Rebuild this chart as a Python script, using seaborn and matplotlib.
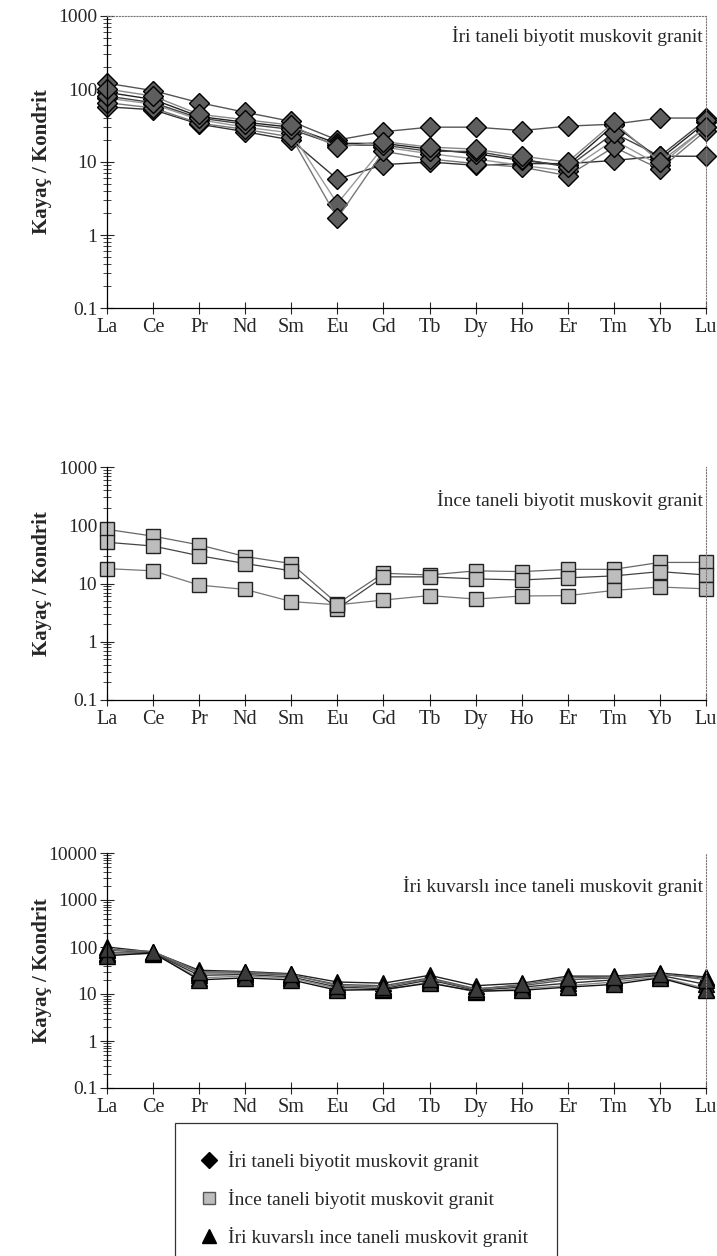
import numpy as np
import pandas as pd
import matplotlib
matplotlib.use("Agg")
import matplotlib.pyplot as plt
import seaborn as sns
from matplotlib.ticker import LogLocator, FixedLocator, FixedFormatter, NullFormatter
from matplotlib.lines import Line2D

# ---------------- data ----------------
elements = ["La", "Ce", "Pr", "Nd", "Sm", "Eu", "Gd", "Tb", "Dy", "Ho", "Er", "Tm", "Yb", "Lu"]

# Panel 1: İri taneli biyotit muskovit granit
iri_1 = [120, 95, 65, 48, 36, 20, 26, 30, 30, 27, 31, 33, 40, 40]
iri_2 = [57, 52, 33, 26, 20, 5.8, 9.2, 10, 9, 9.5, 9.5, 10.5, 12, 12]
iri_3 = [75, 62, 38, 30, 25, 2.7, 16, 13, 11, 9, 7.5, 20, 9, 30]
iri_4 = [65, 55, 34, 28, 22, 1.7, 14, 11, 9.5, 8.5, 6.5, 16, 8, 27]
iri_5 = [90, 72, 42, 35, 30, 18, 18, 15, 13, 10.5, 9, 32, 11, 35]
iri_6 = [80, 65, 40, 33, 28, 17, 17, 14, 14, 11, 8.5, 25, 12, 38]
iri_7 = [100, 80, 45, 38, 32, 16, 19, 16, 15, 12, 10, 35, 10, 30]

# Panel 2: İnce taneli biyotit muskovit granit
ince_1 = [85, 65, 46, 29, 22, 4.5, 15, 14, 16.5, 16, 17.5, 17.5, 23, 23]
ince_2 = [51, 44, 30, 22, 16.5, 3.7, 13, 13, 12, 11.5, 12.5, 13.5, 16, 14]
ince_3 = [18, 16.5, 9.4, 7.9, 4.9, 4.3, 5.2, 6.2, 5.4, 6.1, 6.2, 7.6, 8.7, 8.1]

# Panel 3: İri kuvarslı ince taneli muskovit granit
kuv_1 = [100, 78, 32, 30, 27, 18, 17, 25, 15, 17, 24, 24, 28, 23]
kuv_2 = [85, 76, 28, 28, 25, 16, 15, 22, 13, 15, 20, 22, 26, 22]
kuv_3 = [75, 74, 25, 26, 23, 14, 13, 20, 12, 14, 17, 20, 25, 16]
kuv_4 = [70, 72, 22, 24, 22, 13, 12, 18, 11, 13, 15, 18, 23, 13]
kuv_5 = [65, 75, 20, 22, 20, 12, 12.5, 17, 11.5, 12, 14, 16, 22, 12]
kuv_6 = [90, 80, 30, 29, 26, 15, 14, 21, 12.5, 16, 22, 23, 27, 20]

titles = ["İri taneli biyotit muskovit granit",
          "İnce taneli biyotit muskovit granit",
          "İri kuvarslı ince taneli muskovit granit"]
ylabel = "Kayaç / Kondrit"

# ---------------- style ----------------
sns.set_style("ticks")
plt.rcParams["font.family"] = ["Liberation Serif", "DejaVu Serif"]

W, H = 717, 1256
fig = plt.figure(figsize=(W / 100, H / 100), dpi=100)


def px_axes(x0, y0, x1, y1):
    return fig.add_axes([x0 / W, 1 - y1 / H, (x1 - x0) / W, (y1 - y0) / H])


def long_df(series):
    rows = []
    for i, s in enumerate(series):
        for el, v in zip(elements, s):
            rows.append({"element": el, "value": v, "sample": f"s{i}"})
    return pd.DataFrame(rows)


def style_axes(ax, ymin, ymax, title, title_y):
    ax.set_yscale("log")
    ax.set_ylim(ymin, ymax)
    ax.set_xlim(0, len(elements) - 1)
    ax.set_xticks(range(len(elements)))
    ax.set_xticklabels(elements, fontsize=14.5)
    decades = [10.0 ** k for k in range(int(np.log10(ymin)), int(np.log10(ymax)) + 1)]
    ax.yaxis.set_major_locator(FixedLocator(decades))
    ax.yaxis.set_major_formatter(FixedFormatter([("%g" % d) for d in decades]))
    ax.yaxis.set_minor_locator(LogLocator(base=10, subs=np.arange(2, 10), numticks=20))
    ax.yaxis.set_minor_formatter(NullFormatter())
    ax.tick_params(axis="y", which="major", direction="inout", length=10, width=0.8, labelsize=14, pad=2)
    ax.tick_params(axis="y", which="minor", direction="inout", length=6, width=0.6)
    ax.tick_params(axis="x", which="major", direction="inout", length=8, width=0.8, pad=3)
    for side in ["left", "bottom"]:
        ax.spines[side].set_linewidth(0.9)
        ax.spines[side].set_color("black")
    for side in ["top", "right"]:
        ax.spines[side].set_linestyle(":")
        ax.spines[side].set_color("#777777")
        ax.spines[side].set_linewidth(0.8)
    ax.set_xlabel("")
    ax.set_ylabel(ylabel, fontsize=15, fontweight="bold")
    ax.yaxis.set_label_coords(-0.092, 0.5)
    ax.text(0.995, title_y, title, transform=ax.transAxes, ha="right", va="center", fontsize=14)


# ---------------- panel 1 ----------------
ax1 = px_axes(107, 16, 706, 308)
df1 = long_df([iri_1, iri_2, iri_3, iri_4, iri_5, iri_6, iri_7])
pal1 = ["#555555", "#333333", "#999999", "#777777", "#222222", "#444444", "#888888"]
sns.lineplot(data=df1, x="element", y="value", hue="sample", palette=pal1,
             marker="D", markersize=10, markerfacecolor="#5e5e5e", markeredgecolor="black",
             markeredgewidth=1.0, linewidth=1.0, legend=False, sort=False, estimator=None,
             clip_on=False, ax=ax1)
style_axes(ax1, 0.1, 1000, titles[0], 0.93)

# ---------------- panel 2 ----------------
ax2 = px_axes(107, 467, 706, 700)
df2 = long_df([ince_1, ince_2, ince_3])
pal2 = ["#666666", "#444444", "#777777"]
sns.lineplot(data=df2, x="element", y="value", hue="sample", palette=pal2,
             marker="s", markersize=10, markerfacecolor="#bdbdbd", markeredgecolor="#222222",
             markeredgewidth=1.0, linewidth=0.9, legend=False, sort=False, estimator=None,
             clip_on=False, ax=ax2)
style_axes(ax2, 0.1, 1000, titles[1], 0.86)
ax2.spines["top"].set_visible(False)

# ---------------- panel 3 ----------------
ax3 = px_axes(107, 853, 706, 1088)
df3 = long_df([kuv_1, kuv_2, kuv_3, kuv_4, kuv_5, kuv_6])
pal3 = ["#222222", "#555555", "#333333", "#888888", "#111111", "#666666"]
sns.lineplot(data=df3, x="element", y="value", hue="sample", palette=pal3,
             marker="^", markersize=11, markerfacecolor="#3a3a3a", markeredgecolor="black",
             markeredgewidth=1.0, linewidth=1.0, legend=False, sort=False, estimator=None,
             clip_on=False, ax=ax3)
style_axes(ax3, 0.1, 10000, titles[2], 0.86)
ax3.spines["top"].set_visible(False)

# ---------------- legend ----------------
handles = [
    Line2D([], [], linestyle="none", marker="D", markersize=8, markerfacecolor="black", markeredgecolor="black"),
    Line2D([], [], linestyle="none", marker="s", markersize=8, markerfacecolor="#bdbdbd", markeredgecolor="#555555"),
    Line2D([], [], linestyle="none", marker="^", markersize=10, markerfacecolor="black", markeredgecolor="black"),
]
leg = fig.legend(handles, titles, loc="upper left", bbox_to_anchor=(175 / W, 1 - 1123 / H),
                 frameon=True, fancybox=False, shadow=False, fontsize=14,
                 borderpad=1.45, labelspacing=0.92, handlelength=0.6, handletextpad=0.7,
                 borderaxespad=0)
leg.get_frame().set_edgecolor("black")
leg.get_frame().set_linewidth(0.9)

fig.savefig("out.png", dpi=100)
